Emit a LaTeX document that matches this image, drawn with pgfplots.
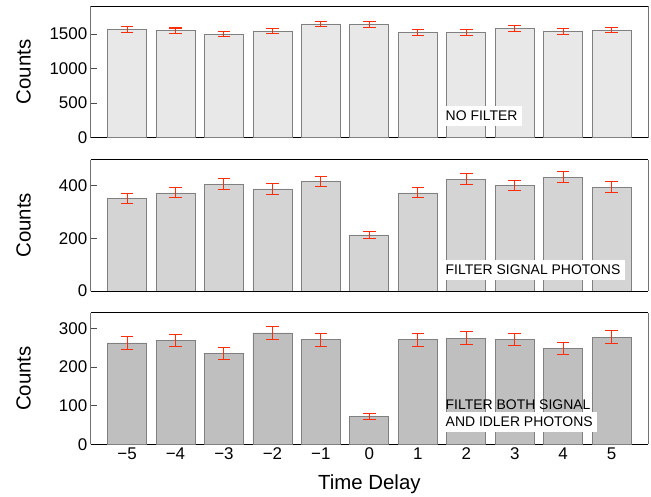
\documentclass[border=0pt]{standalone}
\usepackage{fontspec}
\setmainfont{Liberation Sans}
\usepackage{pgfplots}
\usepackage{pgfplotstable}
\pgfplotsset{compat=1.18}
\definecolor{errred}{RGB}{255,45,10}
\definecolor{edge}{RGB}{128,128,128}
\definecolor{fa}{RGB}{232,232,232}
\definecolor{fb}{RGB}{212,212,212}
\definecolor{fc}{RGB}{191,191,191}

\pgfplotstableread{
x y e
-5 1565 40
-4 1546 39
-3 1498 39
-2 1541 39
-1 1643 41
0 1633 40
1 1522 39
2 1522 39
3 1580 40
4 1536 39
5 1556 39
}\dataA
\pgfplotstableread{
x y e
-5 353 19
-4 373 19
-3 406 20
-2 388 20
-1 416 20
0 213 15
1 373 19
2 425 21
3 401 20
4 432 21
5 395 20
}\dataB
\pgfplotstableread{
x y e
-5 262 16
-4 268 16
-3 235 15
-2 288 17
-1 270 16
0 71 8
1 270 16
2 274 17
3 271 16
4 248 16
5 277 17
}\dataC

\tikzset{
 lab/.style={fill=white, inner xsep=4.5bp, inner ysep=4bp, anchor=south west,
   font=\fontsize{14}{16.7}\selectfont, align=left, text height=10.5bp, text depth=1.5bp},
}
\pgfplotsset{
 panel/.style={
  scale only axis, width=557.3bp, height=131.5bp,
  anchor=south west,
  xmin=-5.75, xmax=5.75, ymin=0,
  xtick={-5,...,5},
  xtick style={draw=none},
  ytick pos=left, tick align=inside, major tick length=6bp,
  ytick style={black!70, line width=0.7bp},
  separate axis lines,
  x axis line style={black, line width=0.9bp},
  y axis line style={black!55, line width=0.9bp},
  ticklabel style={font=\fontsize{17}{20}\selectfont},
  /pgf/number format/assume math mode=true,
  /pgf/number format/1000 sep={},
  ylabel={Counts},
  ylabel style={font=\fontsize{20.5}{24}\selectfont, at={(axis description cs:-0.1206,0.5)}, anchor=center},
 },
 bars/.style={ybar, bar width=39bp, bar shift=0pt, draw=edge, line width=0.8bp},
 eb/.style={forget plot, color=errred, draw=none, mark=none, line width=1.05bp,
   error bars/.cd, y dir=both, y explicit,
   error bar style={draw=errred, line width=1.05bp, solid},
   error mark options={rotate=90, mark size=6.3bp, draw=errred, line width=1.05bp}},
}

\begin{document}
\begin{tikzpicture}
\useasboundingbox (0,0) rectangle (651bp,497bp);
% panel 1
\begin{axis}[panel, at={(90.7bp,359.3bp)}, ymax=1900, ytick={0,500,1000,1500}, xmajorticks=false]
\addplot[bars, fill=fa] table[x=x, y=y] {\dataA};
\addplot[eb] table[x=x, y=y, y error=e] {\dataA};
\node[lab] at (rel axis cs:0.6286,0.091) {NO FILTER};
\end{axis}
% panel 2
\begin{axis}[panel, at={(90.7bp,206bp)}, ymax=500, ytick={0,200,400}, xmajorticks=false]
\addplot[bars, fill=fb] table[x=x, y=y] {\dataB};
\addplot[eb] table[x=x, y=y, y error=e] {\dataB};
\node[lab] at (rel axis cs:0.6286,0.084) {FILTER SIGNAL PHOTONS};
\end{axis}
% panel 3
\begin{axis}[panel, at={(90.7bp,52.7bp)}, ymax=340, ytick={0,100,200,300},
  xticklabels={−5,−4,−3,−2,−1,0,1,2,3,4,5},
  xlabel={Time Delay},
  xlabel style={font=\fontsize{20.5}{24}\selectfont, at={(axis description cs:0.5,0)}, anchor=base, yshift=-45bp}]
\addplot[bars, fill=fc] table[x=x, y=y] {\dataC};
\addplot[eb] table[x=x, y=y, y error=e] {\dataC};
\node[lab] at (rel axis cs:0.6286,0.091) {FILTER BOTH SIGNAL\\AND IDLER PHOTONS};
\end{axis}
\end{tikzpicture}
\end{document}
